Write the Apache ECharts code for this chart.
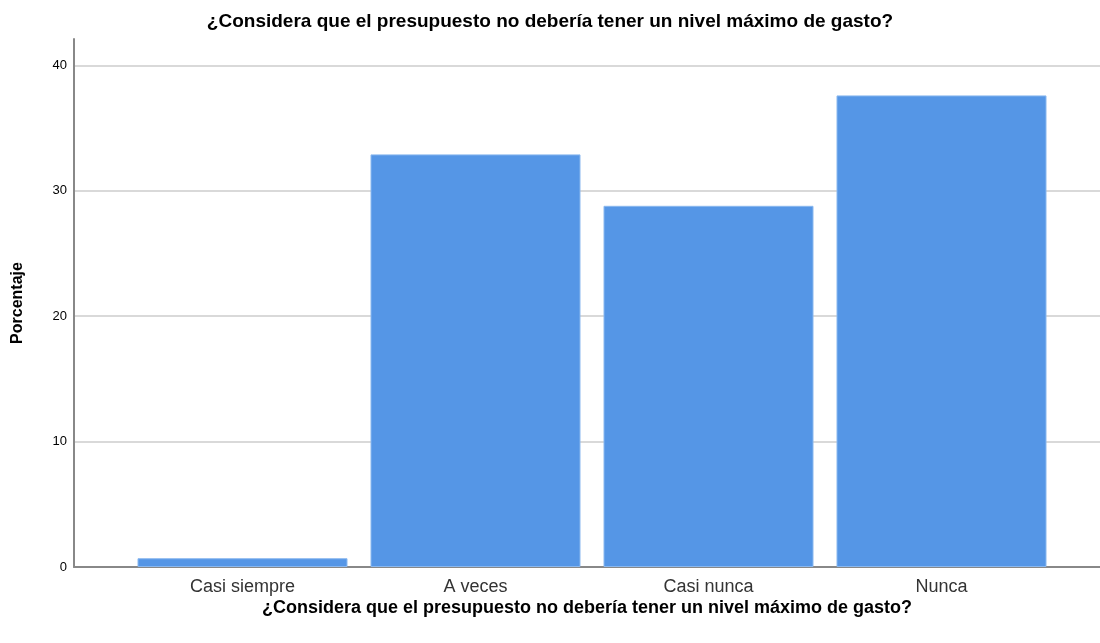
<!DOCTYPE html>
<html>
<head>
<meta charset="utf-8">
<script src="https://cdn.jsdelivr.net/npm/echarts@6/dist/echarts.min.js"></script>
<style>
  html, body { margin: 0; padding: 0; background: #fff; }
  #main { width: 1100px; height: 643px; }
</style>
</head>
<body>
<div id="main"></div>
<script>
var chartDom = document.getElementById('main');
var myChart = echarts.init(chartDom);
var option;

var titleText = '¿Considera que el presupuesto no debería tener un nivel máximo de gasto?';
var categories = ['Casi siempre', 'A veces', 'Casi nunca', 'Nunca'];
var porcentaje = [0.7, 32.9, 28.8, 37.6];
var yMax = 42.1;

var font = '"Liberation Sans", Arial, sans-serif';

option = {
  animation: false,
  backgroundColor: '#fff',
  textStyle: { fontFamily: font },
  title: {
    text: titleText,
    left: 'center',
    top: 7,
    textStyle: { fontSize: 19, fontWeight: 'bold', color: '#000', fontFamily: font }
  },
  grid: [
    // frame: y axis, gridlines, x axis line
    { left: 74, right: 0, top: 39, bottom: 76 },
    // bars
    { left: 126, right: 42, top: 39, bottom: 76 }
  ],
  xAxis: [
    {
      gridIndex: 0,
      type: 'category',
      data: [''],
      axisLine: { show: true, lineStyle: { color: '#888', width: 2 } },
      axisTick: { show: false },
      axisLabel: { show: false },
      name: titleText,
      nameLocation: 'middle',
      nameGap: 32,
      nameTextStyle: { fontSize: 18, fontWeight: 'bold', color: '#000', fontFamily: font }
    },
    {
      gridIndex: 1,
      type: 'category',
      data: categories,
      axisLine: { show: false },
      axisTick: { show: false },
      axisLabel: { fontSize: 18, color: '#333', margin: 11, fontFamily: font }
    }
  ],
  yAxis: [
    {
      gridIndex: 0,
      type: 'value',
      min: 0,
      max: yMax,
      interval: 10,
      axisLine: { show: true, lineStyle: { color: '#888', width: 2 } },
      axisTick: { show: false },
      axisLabel: { fontSize: 13, color: '#000', margin: 7, showMaxLabel: false, fontFamily: font },
      splitLine: { show: true, showMaxLine: false, lineStyle: { color: '#d9d9d9', width: 2 } },
      name: 'Porcentaje',
      nameLocation: 'middle',
      nameGap: 48,
      nameTextStyle: { fontSize: 16, fontWeight: 'bold', color: '#000', fontFamily: font }
    },
    {
      gridIndex: 1,
      type: 'value',
      min: 0,
      max: yMax,
      interval: 10,
      show: false
    }
  ],
  series: [
    {
      type: 'bar',
      xAxisIndex: 1,
      yAxisIndex: 1,
      data: porcentaje,
      barWidth: 210,
      itemStyle: { color: '#5596e6', borderColor: '#8ab8ef', borderWidth: 1 }
    }
  ]
};

option && myChart.setOption(option);
</script>
</body>
</html>
